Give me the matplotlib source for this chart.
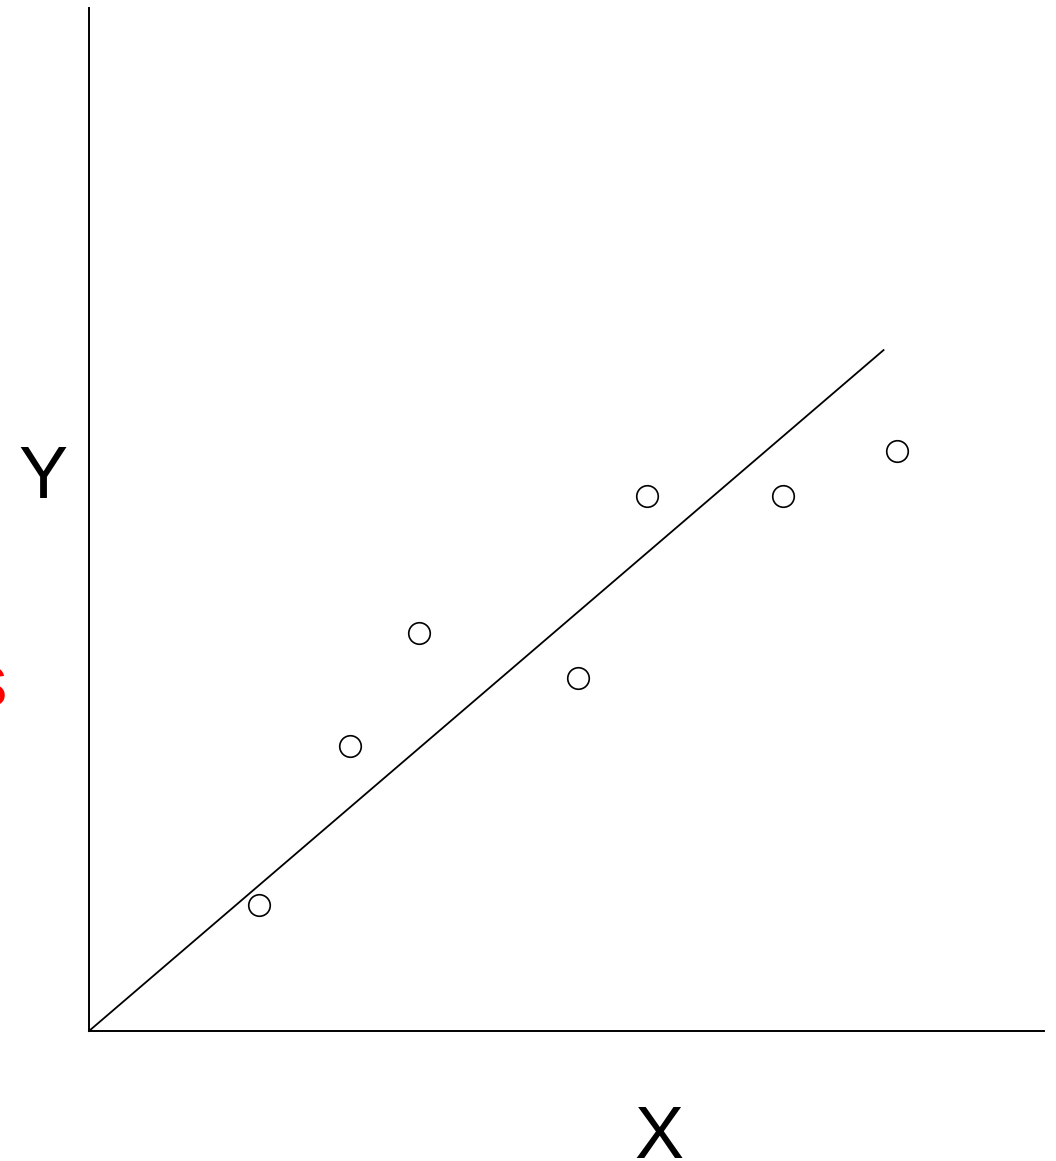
import matplotlib
matplotlib.use("Agg")
import matplotlib.pyplot as plt
import numpy as np

# Observed points and fitted line through the origin
x_obs = [1.78, 2.73, 3.46, 5.12, 5.84, 7.27, 8.46]
y_obs = [1.23, 2.79, 3.89, 3.45, 5.23, 5.23, 5.67]
line_x = [0.0, 8.32]
slope = 0.80

W, H = 1056, 1161
fig = plt.figure(figsize=(W / 100, H / 100), dpi=100)
fig.patch.set_facecolor("white")

ax = fig.add_axes([89 / W, (H - 1031) / H, (1044 - 89) / W, (1031 - 8) / H])
ax.set_xlim(0, 10)
ax.set_ylim(0, 10)
for side in ("top", "right"):
    ax.spines[side].set_visible(False)
for side in ("left", "bottom"):
    ax.spines[side].set_linewidth(1.4)
    ax.spines[side].set_color("black")
ax.set_xticks([])
ax.set_yticks([])

lx = np.array(line_x)
ax.plot(lx, slope * lx, color="black", lw=1.3, clip_on=False)
ax.plot(x_obs, y_obs, "o", mfc="white", mec="black", ms=15.5, mew=1.2, clip_on=False)

font = "Liberation Sans"
fig.text(43 / W, (H - 498) / H, "Y", fontsize=53, family=font, ha="center", va="baseline")
fig.text(659 / W, (H - 1158) / H, "X", fontsize=53, family=font, ha="center", va="baseline")
fig.text(7 / W, (H - 705) / H, "Residuals", fontsize=53, family=font, color="red",
         ha="right", va="baseline")

fig.savefig("out.png", dpi=100)
